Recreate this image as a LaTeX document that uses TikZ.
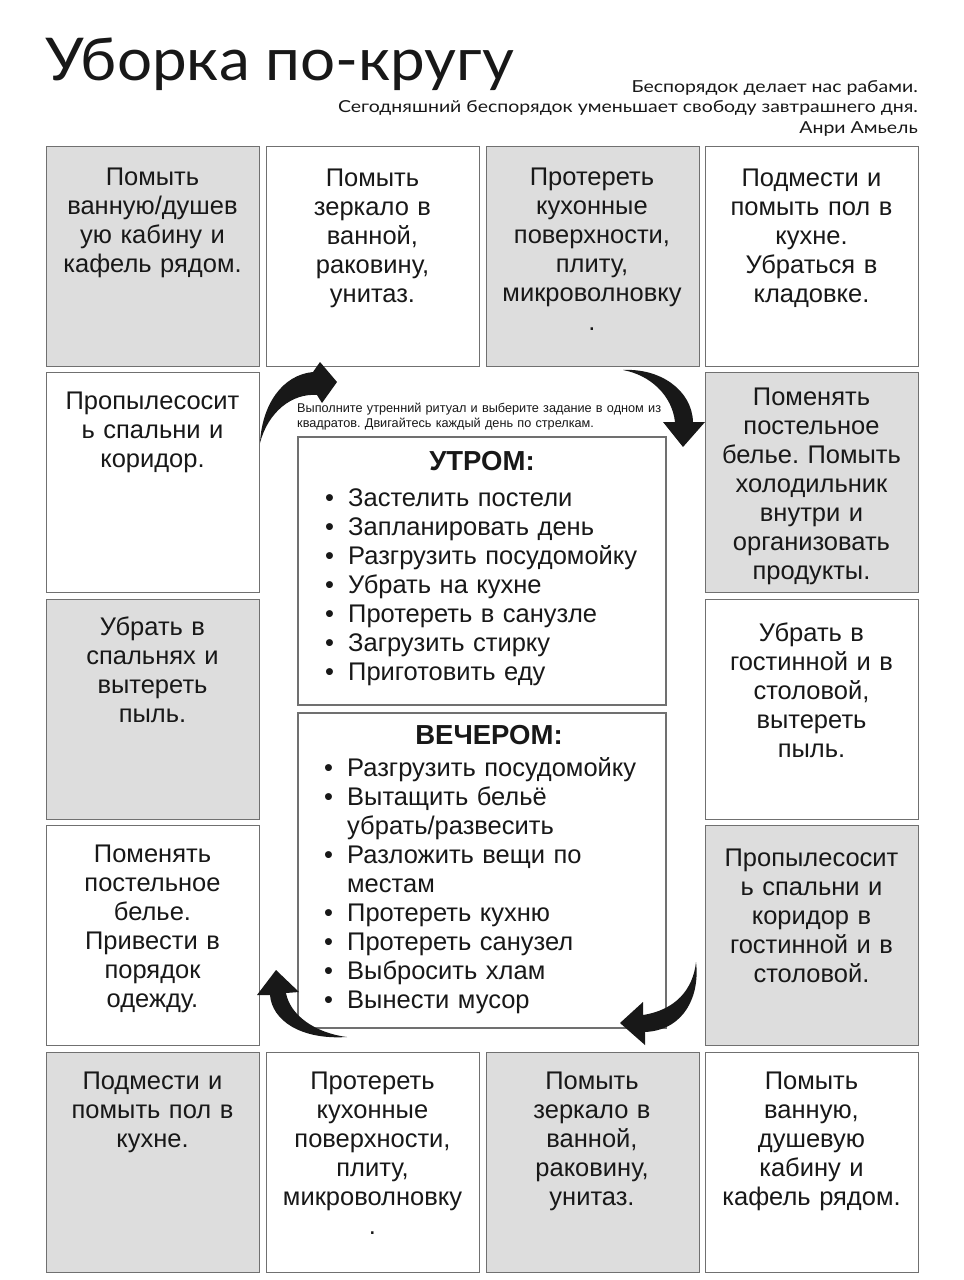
\documentclass[tikz,border=0pt]{standalone}
\usepackage{fontspec}
\setmainfont{Liberation Sans}
\newfontfamily\titlefont[FakeStretch=1.05]{Lato}
\newfontfamily\quotefont[FakeStretch=1.18]{Lato}
\definecolor{cellgray}{RGB}{221,221,221}
\definecolor{edgegray}{RGB}{112,112,112}
\definecolor{ink}{RGB}{24,24,24}
\frenchspacing
\begin{document}
\begin{tikzpicture}[x=1pt,y=-1pt,
  cell/.style={draw=edgegray, line width=1.4pt, minimum width=213pt, minimum height=220pt, inner sep=0pt, anchor=north west},
  graycell/.style={cell, fill=cellgray},
  whitecell/.style={cell, fill=white},
  celltext/.style={anchor=north, inner sep=0pt, text width=212pt, align=center, font=\fontsize{25.5}{29}\selectfont\frenchspacing, text=ink},
  listbox/.style={draw=edgegray, line width=1.4pt, fill=white},
  listhead/.style={anchor=base, inner sep=0pt, font=\fontsize{27.5}{29}\selectfont\bfseries, text=ink},
  listtext/.style={anchor=north west, inner sep=0pt, text width=340pt, align=left, font=\fontsize{25.5}{29}\selectfont, text=ink},
  bigarrow/.style={fill=ink, draw=none}
]
\useasboundingbox (0,0) rectangle (964,1280);
\fill[white] (0,0) rectangle (964,1280);

% title and quote
\node[anchor=base west, inner sep=0pt, font=\titlefont\fontsize{59}{60}\selectfont, text=ink] (title) at (45,80) {Уборка по-кругу};
\node[anchor=base east, inner sep=0pt, font=\quotefont\fontsize{16.5}{20}\selectfont, text=ink] (q1) at (918,92) {Беспорядок делает нас рабами.};
\node[anchor=base east, inner sep=0pt, font=\quotefont\fontsize{16.5}{20}\selectfont, text=ink] (q2) at (918,112.5) {Сегодняшний беспорядок уменьшает свободу завтрашнего дня.};
\node[anchor=base east, inner sep=0pt, font=\quotefont\fontsize{16.5}{20}\selectfont, text=ink] (q3) at (918,133) {Анри Амьель};

% grid cells
\node[graycell]  (c11) at (46,146) {};
\node[whitecell] (c12) at (266,146) {};
\node[graycell]  (c13) at (485.5,146) {};
\node[whitecell] (c14) at (705,146) {};
\node[whitecell] (c21) at (46,372) {};
\node[graycell]  (c24) at (705,372) {};
\node[graycell]  (c31) at (46,598.5) {};
\node[whitecell] (c34) at (705,598.5) {};
\node[whitecell] (c41) at (46,825) {};
\node[graycell]  (c44) at (705,825) {};
\node[graycell]  (c51) at (46,1052) {};
\node[whitecell] (c52) at (266,1052) {};
\node[graycell]  (c53) at (485.5,1052) {};
\node[whitecell] (c54) at (705,1052) {};

% cell texts
\node[celltext] (t11) at (152.5,161.1) {\rule{0pt}{24pt}Помыть\\ванную/душев\\ую кабину и\\кафель рядом.};
\node[celltext] (t12) at (372.5,162) {\rule{0pt}{24pt}Помыть\\зеркало в\\ванной,\\раковину,\\унитаз.};
\node[celltext] (t13) at (592,161.1) {\rule{0pt}{24pt}Протереть\\кухонные\\поверхности,\\плиту,\\микроволновку\\.};
\node[celltext] (t14) at (811.5,162) {\rule{0pt}{24pt}Подмести и\\помыть пол в\\кухне.\\Убраться в\\кладовке.};
\node[celltext] (t21) at (152.5,385.1) {\rule{0pt}{24pt}Пропылесосит\\ь спальни и\\коридор.};
\node[celltext] (t24) at (811.5,381.1) {\rule{0pt}{24pt}Поменять\\постельное\\белье. Помыть\\холодильник\\внутри и\\организовать\\продукты.};
\node[celltext] (t31) at (152.5,611.1) {\rule{0pt}{24pt}Убрать в\\спальнях и\\вытереть\\пыль.};
\node[celltext] (t34) at (811.5,617.1) {\rule{0pt}{24pt}Убрать в\\гостинной и в\\столовой,\\вытереть\\пыль.};
\node[celltext] (t41) at (152.5,838.1) {\rule{0pt}{24pt}Поменять\\постельное\\белье.\\Привести в\\порядок\\одежду.};
\node[celltext] (t44) at (811.5,842.1) {\rule{0pt}{24pt}Пропылесосит\\ь спальни и\\коридор в\\гостинной и в\\столовой.};
\node[celltext] (t51) at (152.5,1065.1) {\rule{0pt}{24pt}Подмести и\\помыть пол в\\кухне.};
\node[celltext] (t52) at (372.5,1065.1) {\rule{0pt}{24pt}Протереть\\кухонные\\поверхности,\\плиту,\\микроволновку\\.};
\node[celltext] (t53) at (592,1065.1) {\rule{0pt}{24pt}Помыть\\зеркало в\\ванной,\\раковину,\\унитаз.};
\node[celltext] (t54) at (811.5,1065.1) {\rule{0pt}{24pt}Помыть\\ванную,\\душевую\\кабину и\\кафель рядом.};

% instruction
\node[anchor=north west, inner sep=0pt, text width=380pt, align=left, font=\fontsize{12.7}{14.5}\selectfont, text=ink] (instr) at (297,400.5) {\rule{0pt}{12pt}Выполните утренний ритуал и выберите задание в одном из\\квадратов. Двигайтесь каждый день по стрелкам.};

% center boxes
\draw[listbox] (298,437) rectangle (666,705);
\coordinate (mbox) at (482,571);
\draw[listbox] (298,713) rectangle (666,1028);
\coordinate (ebox) at (482,870);

\node[listhead] (mhead) at (482,470.8) {УТРОМ:};
\node[listtext] (mlist) at (325,482.1) {\rule{0pt}{24pt}\makebox[23pt][l]{•}Застелить постели\\
\makebox[23pt][l]{•}Запланировать день\\
\makebox[23pt][l]{•}Разгрузить посудомойку\\
\makebox[23pt][l]{•}Убрать на кухне\\
\makebox[23pt][l]{•}Протереть в санузле\\
\makebox[23pt][l]{•}Загрузить стирку\\
\makebox[23pt][l]{•}Приготовить еду};

\node[listhead] (ehead) at (489,744.8) {ВЕЧЕРОМ:};
\node[listtext] (elist) at (324,752.1) {\rule{0pt}{24pt}\makebox[23pt][l]{•}Разгрузить посудомойку\\
\makebox[23pt][l]{•}Вытащить бельё\\
\hspace*{23pt}убрать/развесить\\
\makebox[23pt][l]{•}Разложить вещи по\\
\hspace*{23pt}местам\\
\makebox[23pt][l]{•}Протереть кухню\\
\makebox[23pt][l]{•}Протереть санузел\\
\makebox[23pt][l]{•}Выбросить хлам\\
\makebox[23pt][l]{•}Вынести мусор};

% curved arrows
\fill[bigarrow] (260,443) .. controls (262,405) and (282,375) .. (313,372)
  -- (320,362) -- (337,382) -- (322,403) -- (317,395)
  .. controls (292,393) and (268,412) .. (260,443) -- cycle;
\fill[bigarrow] (623,370) .. controls (660,368) and (692,390) .. (693,422)
  -- (705,422) -- (683,447) -- (663,422) -- (675,422)
  .. controls (672,395) and (650,375) .. (623,370) -- cycle;
\fill[bigarrow] (696,962) .. controls (700,995) and (685,1030) .. (645,1032)
  -- (645,1045) -- (620,1023) -- (643,1002) -- (643,1015)
  .. controls (675,1010) and (693,990) .. (696,962) -- cycle;
\fill[bigarrow] (347,1037) .. controls (300,1040) and (272,1020) .. (270,995)
  -- (257,995) -- (276,970) -- (299,992) -- (286,993)
  .. controls (290,1015) and (315,1033) .. (347,1037) -- cycle;
\end{tikzpicture}
\end{document}
